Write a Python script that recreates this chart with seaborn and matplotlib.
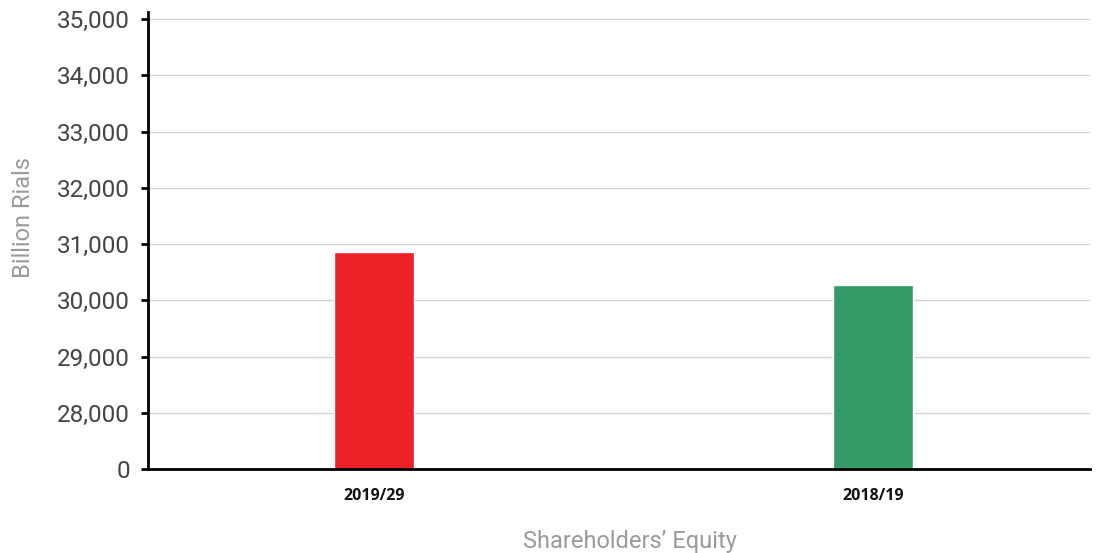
import matplotlib
matplotlib.use("Agg")
import matplotlib.pyplot as plt
import seaborn as sns
import pandas as pd

# data
years = ["2019/29", "2018/19"]
equity = [30860, 30270]
bar_colors = ["#ee2226", "#339966"]
tick_vals = [27000, 28000, 29000, 30000, 31000, 32000, 33000, 34000, 35000]
tick_labels = ["0", "28,000", "29,000", "30,000", "31,000", "32,000", "33,000", "34,000", "35,000"]

df = pd.DataFrame({"year": years, "equity": equity})

sns.set_style("white")
plt.rcParams["font.family"] = ["Roboto", "DejaVu Sans"]

fig = plt.figure(figsize=(11.06, 5.53), dpi=100)
ax = fig.add_axes([0.1338, 0.1519, 0.8517, 0.8264])

sns.barplot(data=df, x="year", y="equity", hue="year", palette=bar_colors,
            width=0.16, legend=False, ax=ax, saturation=1)

ax.set_ylim(27000, 35125)
ax.set_xlim(-0.453, 1.435)
ax.set_yticks(tick_vals)
ax.set_yticklabels(tick_labels)

ax.grid(axis="y", color="#d3d3d3", linewidth=1)
ax.set_axisbelow(True)
for s in ["top", "right"]:
    ax.spines[s].set_visible(False)
ax.spines["left"].set_color("black")
ax.spines["left"].set_linewidth(2)
ax.spines["bottom"].set_color("black")
ax.spines["bottom"].set_linewidth(2)

ax.tick_params(axis="y", left=True, length=5, width=2, color="black",
               labelsize=17.5, labelcolor="#444444", pad=8)
ax.tick_params(axis="x", bottom=False, pad=10)
for lbl in ax.get_xticklabels():
    lbl.set_fontfamily(["Open Sans", "DejaVu Sans"])
    lbl.set_fontweight("bold")
    lbl.set_fontsize(11.5)
    lbl.set_color("#111111")

ax.set_ylabel("Billion Rials", fontsize=17, color="#9a9a9a", labelpad=16)
ax.yaxis.label.set_y(0.55)
ax.set_xlabel("Shareholders\u2019 Equity", fontsize=17, color="#9a9a9a", labelpad=19)
ax.xaxis.label.set_x(0.512)

plt.savefig("out.png", dpi=100)
